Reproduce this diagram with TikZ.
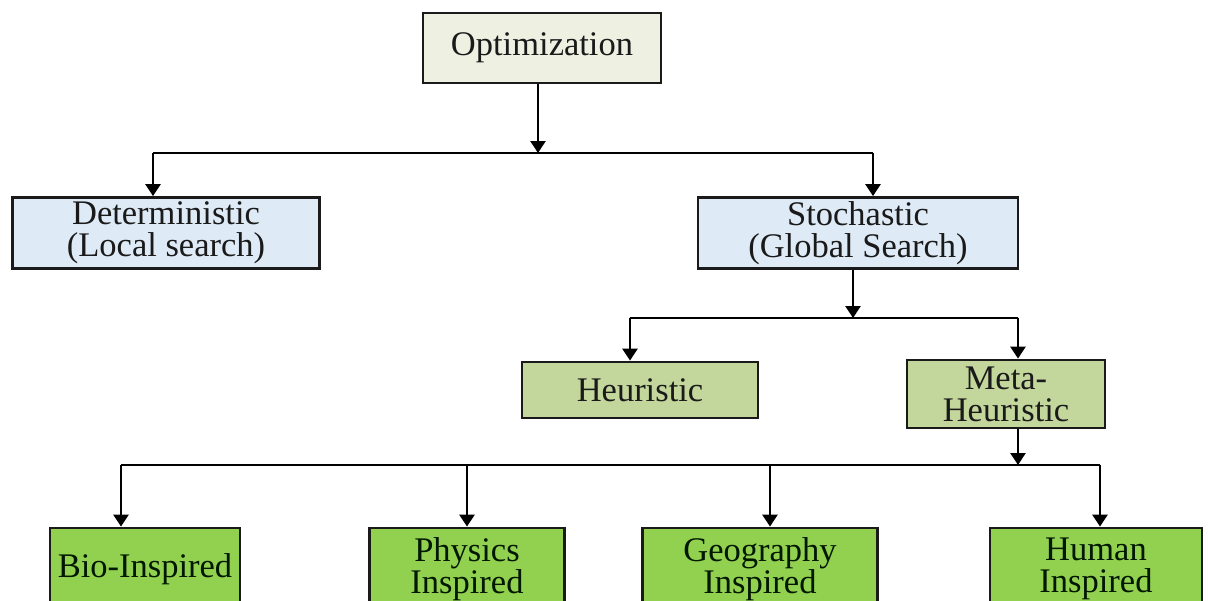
\documentclass[tikz,border=0pt]{standalone}
\usepackage{fontspec}
\setmainfont{Liberation Serif}
\usetikzlibrary{arrows.meta}

\definecolor{rootfill}{HTML}{EEF1E2}
\definecolor{bluefill}{HTML}{DEEBF6}
\definecolor{olivefill}{HTML}{C3D69B}
\definecolor{leaffill}{HTML}{92D050}
\definecolor{inkcol}{HTML}{1A1A1A}

\tikzset{
  box/.style={draw=inkcol, line width=2.8pt, inner sep=0pt, align=center,
    text=inkcol, font=\fontsize{34.5}{32}\selectfont},
  rootbox/.style={box, fill=rootfill},
  bluebox/.style={box, fill=bluefill},
  olivebox/.style={box, fill=olivefill},
  leafbox/.style={box, fill=leaffill, text=black!85!green!60!black},
  link/.style={draw=black, line width=2.6pt},
  arr/.style={link, -{Triangle[width=15pt,length=12pt]}}
}

\begin{document}
\begin{tikzpicture}[x=1pt, y={(0pt,-1pt)}]
  \useasboundingbox (0,0) rectangle (1208,600);
  \clip (0,0) rectangle (1208,600);
  \fill[white] (0,0) rectangle (1208,600);

  % boxes
  \node[rootbox, minimum width=238pt, minimum height=70pt] (opt) at (542,48) {Optimization};
  \node[bluebox, minimum width=307pt, minimum height=71pt] (det) at (166,233) {Deterministic\\(Local search)};
  \node[bluebox, minimum width=320pt, minimum height=71pt] (sto) at (858,233) {Stochastic\\(Global Search)};
  \node[olivebox, minimum width=236pt, minimum height=56pt] (heu) at (640,390) {Heuristic};
  \node[olivebox, minimum width=198pt, minimum height=68pt] (meta) at (1006,394) {Meta-\\Heuristic};
  \node[leafbox, minimum width=190pt, minimum height=82pt] (bio) at (145,569) {Bio-Inspired};
  \node[leafbox, minimum width=195pt, minimum height=82pt] (phy) at (467,569) {Physics\\Inspired};
  \node[leafbox, minimum width=235pt, minimum height=82pt] (geo) at (760,569) {Geography\\Inspired};
  \node[leafbox, minimum width=212pt, minimum height=82pt] (hum) at (1096,569) {Human\\Inspired};

  % junction points of the buses
  \coordinate (j0) at (538,153);
  \coordinate (j0l) at (153,153);
  \coordinate (j0r) at (873,153);
  \coordinate (j1) at (853,318);
  \coordinate (j1l) at (630,318);
  \coordinate (j1r) at (1018,318);
  \coordinate (j2) at (1018,465);
  \coordinate (j2a) at (121,465);
  \coordinate (j2b) at (467,465);
  \coordinate (j2c) at (770,465);
  \coordinate (j2d) at (1100,465);

  % level 1
  \draw[arr] (opt.south -| j0) -- (j0);
  \draw[link] (j0l) -- (j0r);
  \draw[arr] (j0l) -- (j0l |- det.north);
  \draw[arr] (j0r) -- (j0r |- sto.north);

  % level 2
  \draw[arr] (sto.south -| j1) -- (j1);
  \draw[link] (j1l) -- (j1r);
  \draw[arr] (j1l) -- (j1l |- heu.north);
  \draw[arr] (j1r) -- (j1r |- meta.north);

  % level 3
  \draw[arr] (meta.south -| j2) -- (j2);
  \draw[link] (j2a) -- (j2d);
  \draw[arr] (j2a) -- (j2a |- bio.north);
  \draw[arr] (j2b) -- (j2b |- phy.north);
  \draw[arr] (j2c) -- (j2c |- geo.north);
  \draw[arr] (j2d) -- (j2d |- hum.north);
\end{tikzpicture}
\end{document}
